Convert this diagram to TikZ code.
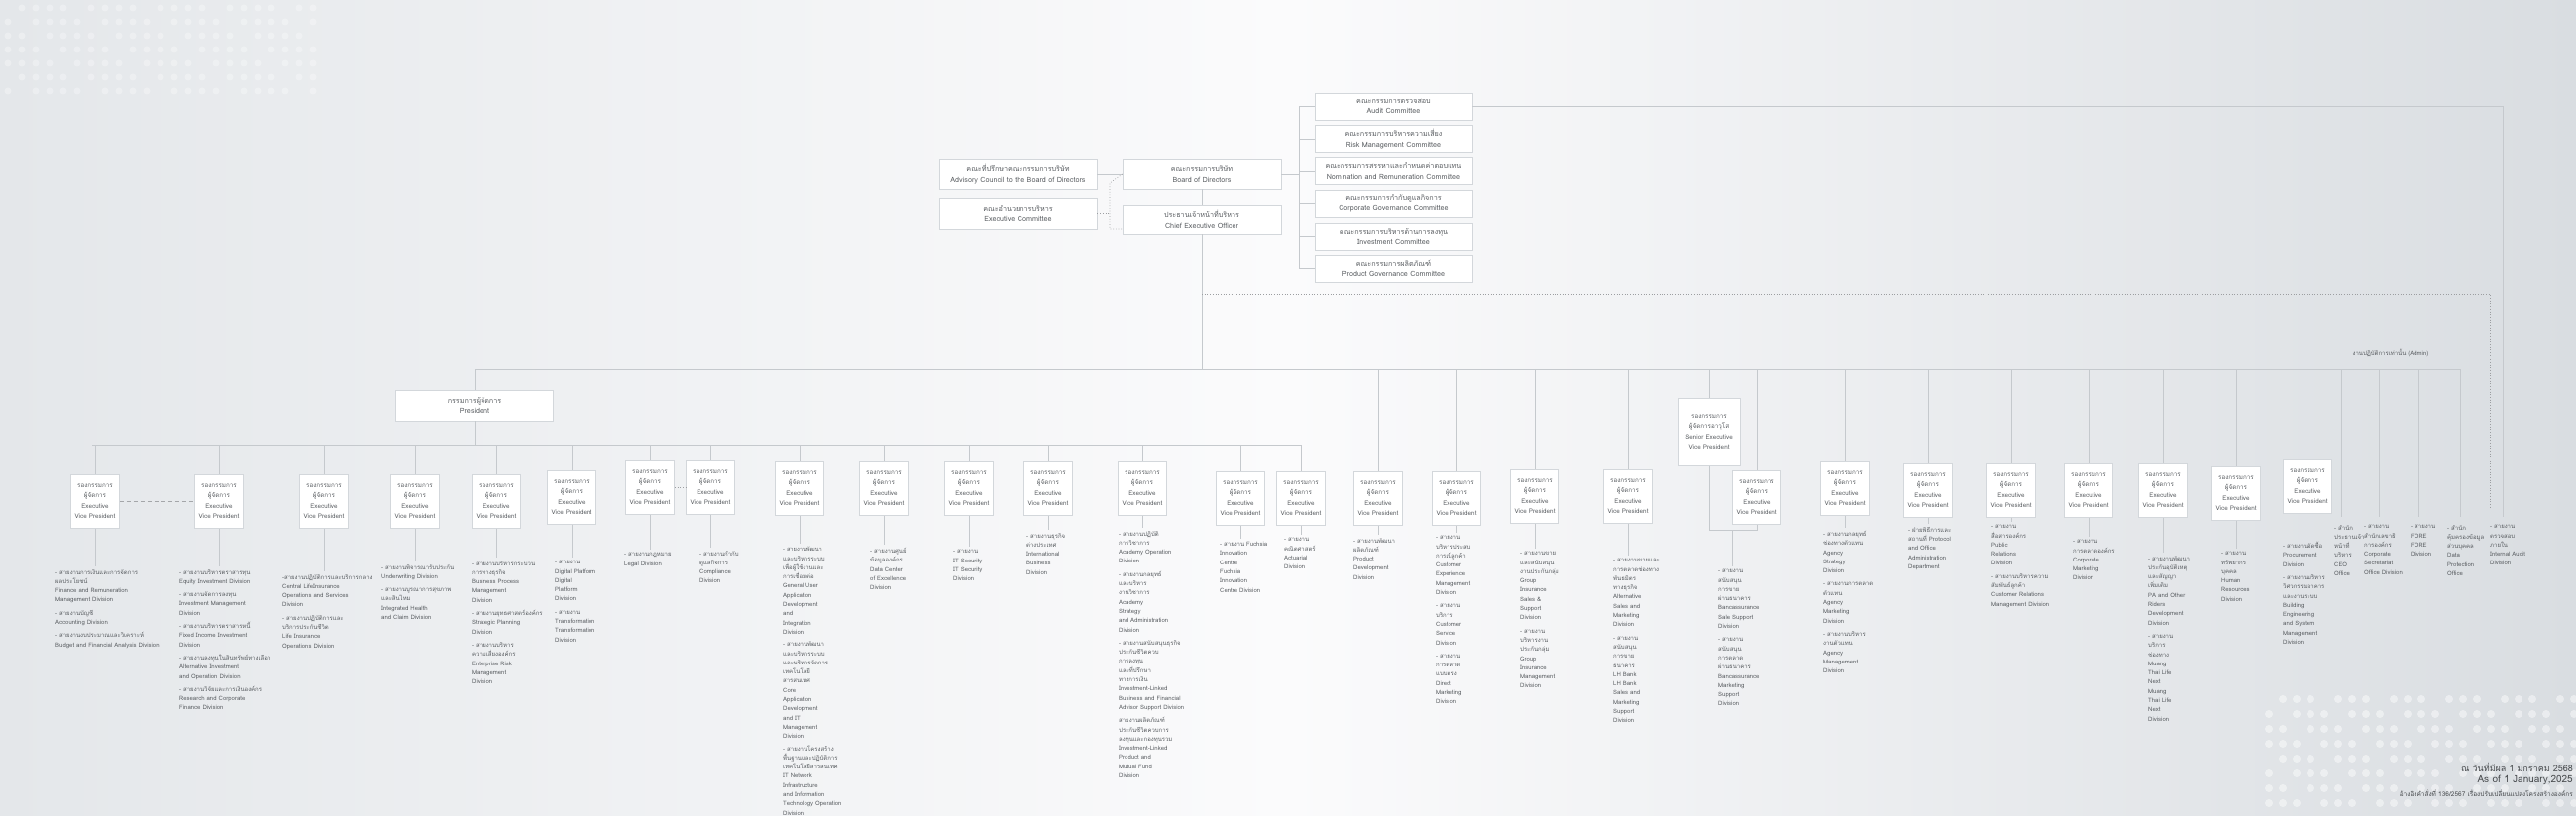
\documentclass[tikz,border=0pt]{standalone}
\usepackage{fontspec}
\setmainfont[Script=Thai]{Loma}
\definecolor{ln}{HTML}{C5C9CD}
\definecolor{bd}{HTML}{D3D7DB}
\definecolor{tx}{HTML}{5A5E62}
\definecolor{bgA}{HTML}{E4E7EA}
\definecolor{bgB}{HTML}{FBFBFC}
\definecolor{bgC}{HTML}{D9DDE1}
\tikzset{
  conn/.style={draw=ln, line width=0.9pt},
  dotconn/.style={draw=tx!60, line width=0.7pt, dotted},
  cbox/.style={draw=bd, fill=white, line width=0.8pt, align=center, text=tx, font=\fontsize{7.2}{10.5}\selectfont, inner sep=1pt},
  evpbox/.style={draw=bd, fill=white, line width=0.8pt, align=center, text=tx, font=\fontsize{6.3}{10.4}\selectfont, inner sep=1pt, minimum width=49pt, minimum height=54pt, anchor=north},
  divtext/.style={align=left, text=tx, font=\fontsize{6}{9.3}\selectfont, inner sep=0pt, anchor=north west},
}
\newcommand{\evptext}{รองกรรมการ\\ผู้จัดการ\\Executive\\Vice President}
% #1 name, #2 x, #3 box top, #4 text left, #5 text top, #6 text
\newcommand{\evpcol}[6]{%
  \node[evpbox] (#1) at (#2,#3) {\evptext};
  \node[divtext] (#1t) at (#4,#5) {#6};
  \coordinate (#1d) at (#2,#5-3);
  \draw[conn] (#1.south) -- (#1d);
}
\begin{document}
\begin{tikzpicture}[x=1pt,y=-1pt]
\useasboundingbox (0,0) rectangle (2600,824);
% background
\shade[left color=bgA, right color=bgC, middle color=bgB] (0,0) rectangle (2600,824);
\foreach \i in {0,...,22}{\foreach \j in {0,...,6}{
  \pgfmathsetmacro{\r}{mod(\i*7+\j*3,5)}
  \ifdim\r pt>0.5pt \fill[white,opacity=0.3] (8+\i*14,8+\j*14) circle (3.5);\fi}}
\foreach \i in {0,...,22}{\foreach \j in {0,...,7}{
  \pgfmathsetmacro{\r}{mod(\i*5+\j*7,4)}
  \ifdim\r pt>0.5pt \fill[white,opacity=0.45] (2290+\i*14,706+\j*15) circle (4);\fi}}

% top level
\node[cbox, minimum width=160pt, minimum height=30pt] (board) at (1213,176) {คณะกรรมการบริษัท\\Board of Directors};
\node[cbox, minimum width=160pt, minimum height=29pt] (ceo) at (1213,221.5) {ประธานเจ้าหน้าที่บริหาร\\Chief Executive Officer};
\node[cbox, minimum width=159pt, minimum height=30pt] (adv) at (1027.5,176) {คณะที่ปรึกษาคณะกรรมการบริษัท\\Advisory Council to the Board of Directors};
\node[cbox, minimum width=159pt, minimum height=31pt] (exe) at (1027.5,215.5) {คณะอำนวยการบริหาร\\Executive Committee};
\foreach \n/\y/\t in {aud/107.5/{คณะกรรมการตรวจสอบ\\Audit Committee},
  risk/140/{คณะกรรมการบริหารความเสี่ยง\\Risk Management Committee},
  nom/173/{คณะกรรมการสรรหาและกำหนดค่าตอบแทน\\Nomination and Remuneration Committee},
  cg/205.5/{คณะกรรมการกำกับดูแลกิจการ\\Corporate Governance Committee},
  inv/238.5/{คณะกรรมการบริหารด้านการลงทุน\\Investment Committee},
  prod/271.5/{คณะกรรมการผลิตภัณฑ์\\Product Governance Committee}}{
  \node[cbox, minimum width=159pt, minimum height=27pt] (\n) at (1406.5,\y) {\t};
  \draw[conn] (1311,\y) -- (\n.west);
}
\draw[conn] (1311,107.5) -- (1311,271.5);
\draw[conn] (board.east) -- (1311,176);
\draw[conn] (adv.east) -- (board.west);
\draw[conn] (board.south) -- (ceo.north);
\draw[dotconn] (exe.east) -- (1120,215.5);
\draw[dotconn] (board.west) -- (1120,185) -- (1120,231) -- (1133,231);
\coordinate (bus0) at (1213,373);
\draw[conn] (ceo.south) -- (bus0);
\coordinate (adr) at (2513,297);
\draw[dotconn] (1213,297) -- (adr) -- (2513,513);
\coordinate (audr) at (2526,522);
\draw[conn] (aud.east) -- (2526,107.5) -- (audr);

% President
\node[cbox, minimum width=159pt, minimum height=31pt] (pres) at (479,409.5) {กรรมการผู้จัดการ\\President};
\draw[conn] (479,373) -- (2483,373);
\draw[conn] (pres.north) -- (479,373);
\draw[conn] (93,449) -- (1313,449);
\draw[conn] (pres.south) -- (479,449);
\node[text=tx, font=\fontsize{6}{8}\selectfont] (admin) at (2413,356) {งานปฏิบัติการเท่านั้น (Admin)};

% lower bus columns
\evpcol{e1}{96}{479}{56}{575}{- สายงานการเงินและการจัดการ\\ผลประโยชน์\\Finance and Remuneration\\Management Division\\[4pt]- สายงานบัญชี\\Accounting Division\\[4pt]- สายงานงบประมาณและวิเคราะห์\\Budget and Financial Analysis Division}
\evpcol{e2}{221}{479}{181}{575}{- สายงานบริหารตราสารทุน\\Equity Investment Division\\[4pt]- สายงานจัดการลงทุน\\Investment Management\\Division\\[4pt]- สายงานบริหารตราสารหนี้\\Fixed Income Investment\\Division\\[4pt]- สายงานลงทุนในสินทรัพย์ทางเลือก\\Alternative Investment\\and Operation Division\\[4pt]- สายงานวิจัยและการเงินองค์กร\\Research and Corporate\\Finance Division}
\evpcol{e3}{327}{479}{285}{580}{-สายงานปฏิบัติการและบริการกลาง\\Central LifeInsurance\\Operations and Services\\Division\\[4pt]- สายงานปฏิบัติการและ\\บริการประกันชีวิต\\Life Insurance\\Operations Division}
\evpcol{e4}{419}{479}{385}{570}{- สายงานพิจารณารับประกัน\\Underwriting Division\\[4pt]- สายงานบูรณาการสุขภาพ\\และสินไหม\\Integrated Health\\and Claim Division}
\evpcol{e5}{501}{479}{476}{566}{- สายงานบริหารกระบวน\\การทางธุรกิจ\\Business Process\\Management\\Division\\[4pt]- สายงานยุทธศาสตร์องค์กร\\Strategic Planning\\Division\\[4pt]- สายงานบริหาร\\ความเสี่ยงองค์กร\\Enterprise Risk\\Management\\Division}
\evpcol{e6}{577}{475}{560}{566}{- สายงาน\\Digital Platform\\Digital\\Platform\\Division\\[4pt]- สายงาน\\Transformation\\Transformation\\Division}
\evpcol{e7}{656}{465}{630}{558}{- สายงานกฎหมาย\\Legal Division}
\evpcol{e8}{717}{465}{706}{556}{- สายงานกำกับ\\ดูแลกิจการ\\Compliance\\Division}
\evpcol{e9}{807}{466}{790}{552}{\fontsize{5.7}{8.2}\selectfont - สายงานพัฒนา\\และบริหารระบบ\\เพื่อผู้ใช้งานและ\\การเชื่อมต่อ\\General User\\Application\\Development\\and\\Integration\\Division\\[3pt]- สายงานพัฒนา\\และบริหารระบบ\\และบริหารจัดการ\\เทคโนโลยี\\สารสนเทศ\\Core\\Application\\Development\\and IT\\Management\\Division\\[3pt]- สายงานโครงสร้าง\\พื้นฐานและปฏิบัติการ\\เทคโนโลยีสารสนเทศ\\IT Network\\Infrastructure\\and Information\\Technology Operation\\Division}
\evpcol{e10}{892}{466}{878}{553}{- สายงานศูนย์\\ข้อมูลองค์กร\\Data Center\\of Excellence\\Division}
\evpcol{e11}{978}{466}{962}{555}{- สายงาน\\IT Security\\IT Security\\Division}
\evpcol{e12}{1058}{466}{1036}{538}{- สายงานธุรกิจ\\ต่างประเทศ\\International\\Business\\Division}
\evpcol{e13}{1153}{466}{1129}{536}{- สายงานปฏิบัติ\\การวิชาการ\\Academy Operation\\Division\\[4pt]- สายงานกลยุทธ์\\และบริหาร\\งานวิชาการ\\Academy\\Strategy\\and Administration\\Division\\[4pt]- สายงานสนับสนุนธุรกิจ\\ประกันชีวิตควบ\\การลงทุน\\และที่ปรึกษา\\ทางการเงิน\\Investment-Linked\\Business and Financial\\Advisor Support Division\\[4pt]สายงานผลิตภัณฑ์\\ประกันชีวิตควบการ\\ลงทุนและกองทุนรวม\\Investment-Linked\\Product and\\Mutual Fund\\Division}
\evpcol{e14}{1252}{476}{1231}{547}{- สายงาน Fuchsia\\Innovation\\Centre\\Fuchsia\\Innovation\\Centre Division}
\evpcol{e15}{1313}{476}{1296}{543}{- สายงาน\\คณิตศาสตร์\\Actuarial\\Division}
\foreach \n/\x in {e1/96,e2/221,e3/327,e4/419,e5/501,e6/577,e7/656,e8/717,e9/807,e10/892,e11/978,e12/1058,e13/1153,e14/1252,e15/1313}{
  \draw[conn] (\x,449) -- (\n.north);}
\draw[conn, dashed, dash pattern=on 4pt off 3pt, draw=tx!55] (e1.east) -- (e2.west);
\draw[dotconn] (e7.east) -- (e8.west);

% main bus columns
\evpcol{e16}{1391}{476}{1366}{543}{- สายงานพัฒนา\\ผลิตภัณฑ์\\Product\\Development\\Division}
\evpcol{e17}{1470}{476}{1449}{541}{- สายงาน\\บริหารประสบ\\การณ์ลูกค้า\\Customer\\Experience\\Management\\Division\\[4pt]- สายงาน\\บริการ\\Customer\\Service\\Division\\[4pt]- สายงาน\\การตลาด\\แบบตรง\\Direct\\Marketing\\Division}
\evpcol{e18}{1549}{474}{1534}{557}{- สายงานขาย\\และสนับสนุน\\งานประกันกลุ่ม\\Group\\Insurance\\Sales \&\\Support\\Division\\[4pt]- สายงาน\\บริหารงาน\\ประกันกลุ่ม\\Group\\Insurance\\Management\\Division}
\evpcol{e19}{1643}{474}{1628}{564}{- สายงานขายและ\\การตลาดช่องทาง\\พันธมิตร\\ทางธุรกิจ\\Alternative\\Sales and\\Marketing\\Division\\[4pt]- สายงาน\\สนับสนุน\\การขาย\\ธนาคาร\\LH Bank\\LH Bank\\Sales and\\Marketing\\Support\\Division}
\node[evpbox, minimum width=62pt, minimum height=68pt] (sevp) at (1725,402) {รองกรรมการ\\ผู้จัดการอาวุโส\\Senior Executive\\Vice President};
\node[evpbox] (e20) at (1773,475) {\evptext};
\node[divtext] (e20t) at (1734,575) {- สายงาน\\สนับสนุน\\การขาย\\ผ่านธนาคาร\\Bancassurance\\Sale Support\\Division\\[4pt]- สายงาน\\สนับสนุน\\การตลาด\\ผ่านธนาคาร\\Bancassurance\\Marketing\\Support\\Division};
\coordinate (sv1) at (1725,535);
\coordinate (sv2) at (1773,535);
\coordinate (e20d) at (1748,572);
\draw[conn] (sevp.south) -- (sv1) -- (sv2) -- (e20.south);
\draw[conn] (1748,535) -- (e20d);
\evpcol{e21}{1862}{466}{1840}{536}{- สายงานกลยุทธ์\\ช่องทางตัวแทน\\Agency\\Strategy\\Division\\[4pt]- สายงานการตลาด\\ตัวแทน\\Agency\\Marketing\\Division\\[4pt]- สายงานบริหาร\\งานตัวแทน\\Agency\\Management\\Division}
\evpcol{e22}{1946}{468}{1926}{532}{- ฝ่ายพิธีการและ\\สถานที่ Protocol\\and Office\\Administration\\Department}
\evpcol{e23}{2030}{468}{2010}{530}{- สายงาน\\สื่อสารองค์กร\\Public\\Relations\\Division\\[4pt]- สายงานบริหารความ\\สัมพันธ์ลูกค้า\\Customer Relations\\Management Division}
\evpcol{e24}{2108}{468}{2092}{545}{- สายงาน\\การตลาดองค์กร\\Corporate\\Marketing\\Division}
\evpcol{e25}{2183}{468}{2168}{561}{- สายงานพัฒนา\\ประกันอุบัติเหตุ\\และสัญญา\\เพิ่มเติม\\PA and Other\\Riders\\Development\\Division\\[4pt]- สายงาน\\บริการ\\ช่องทาง\\Muang\\Thai Life\\Next\\Muang\\Thai Life\\Next\\Division}
\evpcol{e26}{2257}{471}{2242}{557}{- สายงาน\\ทรัพยากร\\บุคคล\\Human\\Resources\\Division}
\evpcol{e27}{2329}{464}{2304}{547}{- สายงานจัดซื้อ\\Procurement\\Division\\[4pt]- สายงานบริหาร\\วิศวกรรมอาคาร\\และงานระบบ\\Building\\Engineering\\and System\\Management\\Division}
\foreach \n/\x in {e16/1391,e17/1470,e18/1549,e19/1643,sevp/1725,e20/1773,e21/1862,e22/1946,e23/2030,e24/2108,e25/2183,e26/2257,e27/2329}{
  \draw[conn] (\x,373) -- (\n.north);}

% admin columns
\foreach \n/\x/\tx/\t in {a1/2363/2356/{- สำนัก\\ประธานเจ้า\\หน้าที่\\บริหาร\\CEO\\Office},
  a2/2401/2386/{- สายงาน\\สำนักเลขาธิ\\การองค์กร\\Corporate\\Secretariat\\Office Division},
  a3/2441/2433/{- สายงาน\\FORE\\FORE\\Division},
  a4/2483/2470/{- สำนัก\\คุ้มครองข้อมูล\\ส่วนบุคคล\\Data\\Protection\\Office}}{
  \node[divtext] (\n) at (\tx,530) {\t};
  \draw[conn] (\x,373) -- (\x,522);
}
\node[divtext] (ia) at (2513,530) {- สายงาน\\ตรวจสอบ\\ภายใน\\Internal Audit\\Division};

% footer
\node[anchor=east, text=tx!80!black, font=\fontsize{9}{11}\selectfont, inner sep=0pt] (f1) at (2597,775) {ณ วันที่มีผล 1 มกราคม 2568};
\node[anchor=east, text=tx!80!black, font=\fontsize{10}{12}\selectfont, inner sep=0pt] (f2) at (2597,788) {As of 1 January,2025};
\node[anchor=east, text=tx!80!black, font=\fontsize{6.5}{8}\selectfont, inner sep=0pt] (f3) at (2597,801) {อ้างอิงคำสั่งที่ 136/2567 เรื่องปรับเปลี่ยนแปลงโครงสร้างองค์กร};
\end{tikzpicture}
\end{document}
